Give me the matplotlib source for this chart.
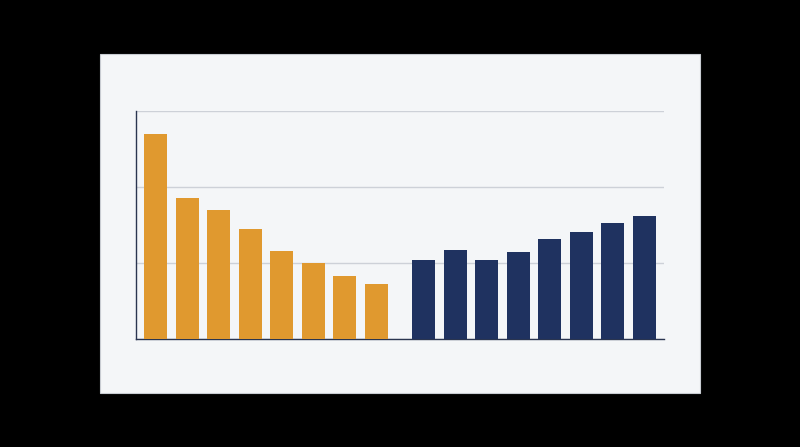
import matplotlib
matplotlib.use("Agg")
import matplotlib.pyplot as plt
from matplotlib.patches import Rectangle

# values (one grid step = 1 unit)
left_values = [2.69, 1.85, 1.70, 1.44, 1.15, 1.00, 0.83, 0.72]
right_values = [1.04, 1.17, 1.04, 1.14, 1.31, 1.41, 1.52, 1.62]
left_pos = [0, 1, 2, 3, 4, 5, 6, 7]
right_pos = [8.5, 9.5, 10.5, 11.5, 12.5, 13.5, 14.5, 15.5]

orange = "#E0992F"
navy = "#1F3260"
panel = "#F4F6F8"

fig = plt.figure(figsize=(8, 4.47), dpi=100, facecolor="black")

# light card behind the chart
card = Rectangle((100 / 800, 54 / 447), 600 / 800, 339 / 447,
                 transform=fig.transFigure, facecolor=panel,
                 edgecolor="#C8CCD2", linewidth=0.8, zorder=-1)
fig.add_artist(card)

ax = fig.add_axes([136 / 800, 108 / 447, 528 / 800, 228.5 / 447])
ax.set_zorder(1)
ax.set_facecolor(panel)

ax.bar(left_pos, left_values, width=0.72, color=orange, zorder=3)
ax.bar(right_pos, right_values, width=0.72, color=navy, zorder=3)

ax.set_xlim(-0.625, 16.125)
ax.set_ylim(0, 3)
ax.set_yticks([0, 1, 2, 3])
ax.yaxis.grid(True, color="#CDD1D8", linewidth=1.0, zorder=0)
ax.set_axisbelow(True)
ax.tick_params(left=False, bottom=False, labelleft=False, labelbottom=False)

for s in ("top", "right"):
    ax.spines[s].set_visible(False)
for s in ("left", "bottom"):
    ax.spines[s].set_color("#2A3550")
    ax.spines[s].set_linewidth(1.0)

fig.savefig("out.png", dpi=100, facecolor=fig.get_facecolor())
